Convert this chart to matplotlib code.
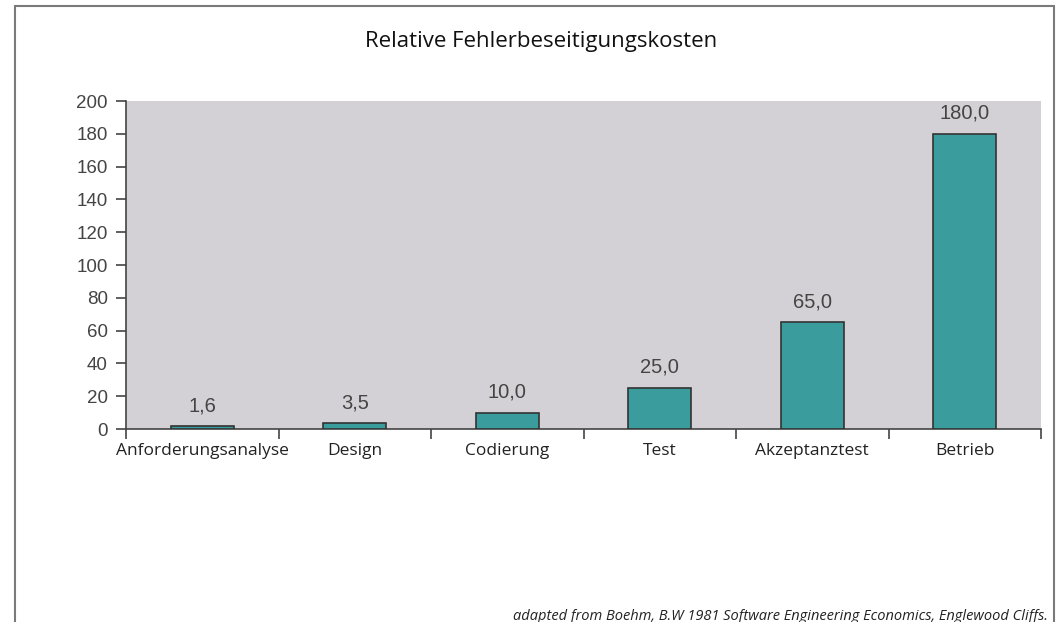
import matplotlib
matplotlib.use("Agg")
import matplotlib.pyplot as plt
from matplotlib.patches import Rectangle
from matplotlib.ticker import FixedLocator, NullFormatter

categories = ["Anforderungsanalyse", "Design", "Codierung", "Test", "Akzeptanztest", "Betrieb"]
values = [1.6, 3.5, 10.0, 25.0, 65.0, 180.0]
value_labels = ["1,6", "3,5", "10,0", "25,0", "65,0", "180,0"]
yticks = [0, 20, 40, 60, 80, 100, 120, 140, 160, 180, 200]
title = "Relative Fehlerbeseitigungskosten"
footer = "adapted from Boehm, B.W 1981 Software Engineering Economics, Englewood Cliffs."

W, H = 1057, 622
fig = plt.figure(figsize=(W / 100, H / 100), dpi=100)
fig.patch.set_facecolor("white")

# outer frame
fig.add_artist(Rectangle((15 / W, -0.05), (1054 - 15) / W, 1.05 - 5.5 / H,
                         transform=fig.transFigure, fill=False,
                         edgecolor="#7a7a7a", linewidth=1.5))

ax = fig.add_axes([126 / W, 1 - 429 / H, (1041 - 126) / W, (429 - 101) / H])
ax.set_facecolor("#d3d1d5")

x = [i + 0.5 for i in range(len(categories))]
bars = ax.bar(x, values, width=0.41, color="#3a9c9c", edgecolor="#333333", linewidth=1.2, zorder=3)
for xi, v, lab in zip(x, values, value_labels):
    ax.annotate(lab, (xi, v), xytext=(0, 8), textcoords="offset points",
                ha="center", va="bottom", fontsize=14.5, color="#444444",
                family="Liberation Sans")

ax.set_xlim(0, len(categories))
ax.set_ylim(0, 200)
ax.yaxis.set_major_locator(FixedLocator(yticks))
ax.xaxis.set_major_locator(FixedLocator(list(range(len(categories) + 1))))
ax.xaxis.set_major_formatter(NullFormatter())
ax.xaxis.set_minor_locator(FixedLocator(x))
ax.set_xticklabels(categories, minor=True)
ax.tick_params(axis="x", which="major", length=7, width=1.2, color="#444444", direction="out")
ax.tick_params(axis="x", which="minor", length=0, pad=10, labelsize=12.5, labelcolor="#222222")
ax.tick_params(axis="y", length=7, width=1.2, color="#444444", direction="out",
               labelsize=13.5, labelcolor="#444444", pad=6)
for lab in ax.get_xticklabels(minor=True):
    lab.set_family("Open Sans")
for lab in ax.get_yticklabels():
    lab.set_family("Liberation Sans")

for s in ["top", "right"]:
    ax.spines[s].set_visible(False)
for s in ["left", "bottom"]:
    ax.spines[s].set_color("#444444")
    ax.spines[s].set_linewidth(1.2)

fig.text(541 / W, 1 - 42 / H, title, ha="center", va="center", fontsize=16,
         family="Open Sans", color="#111111")
fig.text(1048 / W, 1 - 620 / H, footer, ha="right", va="baseline", fontsize=10.5,
         family="Open Sans", style="italic", color="#222222")

fig.savefig("out.png", dpi=100)
